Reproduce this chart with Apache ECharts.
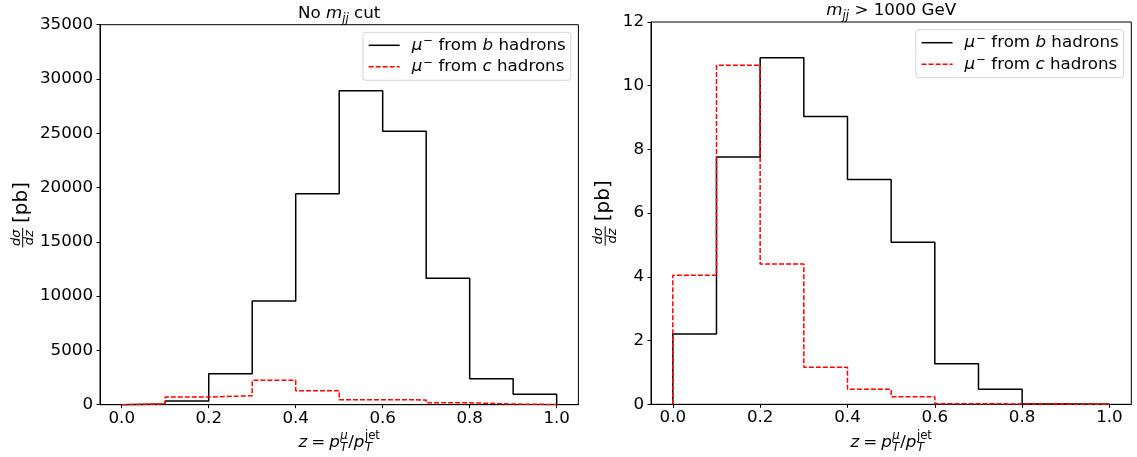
<!DOCTYPE html>
<html><head><meta charset="utf-8">
<script src="https://cdn.jsdelivr.net/npm/echarts@6/dist/echarts.min.js"></script>
<style>html,body{margin:0;padding:0;background:#fff}#c{width:1137px;height:457px}</style>
</head><body><div id="c"></div>
<script>
// ---------- data ----------
const binEdges = [0.0, 0.1, 0.2, 0.3, 0.4, 0.5, 0.6, 0.7, 0.8, 0.9, 1.0];
const xTicks = [0.0, 0.2, 0.4, 0.6, 0.8, 1.0];
const leftB = [60, 330, 2855, 9550, 19435, 28920, 25180, 11640, 2395, 960];
const leftC = [60, 700, 830, 2245, 1290, 460, 440, 180, 60, 20];
const rightB = [2.21, 7.76, 10.88, 9.03, 7.06, 5.09, 1.27, 0.47, 0.01, 0.005];
const rightC = [4.05, 10.64, 4.40, 1.16, 0.47, 0.24, 0.02, 0.01, 0.005, 0.0];
const leftYMax = 35000, leftYStep = 5000;
const rightYMax = 12, rightYStep = 2;

// ---------- helpers ----------
const FONT = 'DejaVu Sans';
const S = 16.7, SS = 11.7;
const mctx = document.createElement('canvas').getContext('2d');
function tw(t, size, it) { mctx.font = (it ? 'italic ' : '') + size + 'px "' + FONT + '"'; return mctx.measureText(t).width; }
function compose(items) {
  let x = 0, prevX = 0; const out = [];
  items.forEach(p => {
    const w = tw(p.t, p.s, p.it); let px;
    if (p.stack) { px = prevX; x = Math.max(x, prevX + w); }
    else { px = x + (p.gap || 0); prevX = px; x = px + w; }
    out.push(Object.assign({}, p, { x: px, w: w }));
  });
  return { items: out, width: x };
}
function textEl(x, baseY, p) {
  return { type: 'text', x: x, y: baseY - 0.3 * p.s, silent: true,
    style: { text: p.t, fontSize: p.s, fontFamily: FONT, fontStyle: p.it ? 'italic' : 'normal', fill: '#000', align: 'left', verticalAlign: 'middle' } };
}
function mathGroup(items, cx, baseY) {
  const c = compose(items); const x0 = -c.width / 2;
  return { type: 'group', x: cx, y: baseY, children: c.items.map(p => textEl(x0 + p.x, p.dy || 0, p)) };
}
function xLabel(cx, baseY) {
  return mathGroup([
    { t: 'z', s: S, it: 1 }, { t: '=', s: S, gap: 4 }, { t: 'p', s: S, it: 1, gap: 4 },
    { t: 'μ', s: SS, it: 1, dy: -0.5 * S, gap: 0.5 }, { t: 'T', s: SS, it: 1, dy: 0.21 * S, stack: 1 },
    { t: '/', s: S, gap: 0.5 }, { t: 'p', s: S, it: 1 },
    { t: 'jet', s: SS, dy: -0.5 * S, gap: 0.5 }, { t: 'T', s: SS, it: 1, dy: 0.21 * S, stack: 1 }
  ], cx, baseY);
}
function yLabel(baseX, cy) {
  const fs = 13, bs = 20;
  const wn = tw('dσ', fs, 1), wd = tw('dz', fs, 1);
  const fw = Math.max(wn, wd) + 3;
  const wpb = tw('[pb]', bs, 0);
  const gap = 5;
  const total = fw + gap + wpb;
  const x0 = -total / 2;
  const barY = -4.7;
  const ch = [
    textEl(x0 + (fw - wn) / 2, barY - 2.2, { t: 'dσ', s: fs, it: 1 }),
    textEl(x0 + (fw - wd) / 2, barY + 11.2, { t: 'dz', s: fs, it: 1 }),
    { type: 'line', silent: true, shape: { x1: x0, y1: barY, x2: x0 + fw, y2: barY }, style: { stroke: '#000', lineWidth: 1 } },
    textEl(x0 + fw + gap, 0, { t: '[pb]', s: bs, it: 0 })
  ];
  return { type: 'group', x: baseX, y: cy, rotation: Math.PI / 2, children: ch };
}
function stepPoints(vals) {
  const pts = [[binEdges[0], 0]];
  vals.forEach((v, i) => { pts.push([binEdges[i], v]); pts.push([binEdges[i + 1], v]); });
  pts.push([binEdges[binEdges.length - 1], 0]);
  return pts;
}
const names = { b1: 'b', c1: 'c', b2: 'b', c2: 'c' };
function legendFmt(name) { return '{g| }{i|μ}{sp|−}{r| from }{i|' + names[name] + '}{r| hadrons}'; }
const legendRich = {
  g: { width: 7 },
  i: { fontFamily: FONT, fontSize: S, fontStyle: 'italic', color: '#000', lineHeight: 20 },
  r: { fontFamily: FONT, fontSize: S, color: '#000', lineHeight: 20 },
  sp: { fontFamily: FONT, fontSize: SS, color: '#000', verticalAlign: 'top', padding: [0, 0, 0, 1] }
};
function mkLegend(right, top, data) {
  return { orient: 'vertical', right: right, top: top, data: data, itemWidth: 31, itemHeight: 14, itemGap: 3,
    padding: [3, 5, 5, 5], backgroundColor: '#fff', borderColor: '#d4d4d4', borderWidth: 1, borderRadius: 3,
    itemStyle: { opacity: 0 }, lineStyle: { width: 1.5 },
    selectedMode: false, formatter: legendFmt, textStyle: { fontFamily: FONT, fontSize: S, color: '#000', rich: legendRich } };
}
function xAxisCfg(gi) {
  return { type: 'value', gridIndex: gi, min: -0.05, max: 1.05,
    axisLine: { show: true, onZero: false, lineStyle: { color: '#000', width: 1 } },
    axisTick: { show: true, inside: false, length: 3.5, customValues: xTicks, lineStyle: { color: '#000', width: 1 } },
    axisLabel: { customValues: xTicks, formatter: v => v.toFixed(1), fontFamily: FONT, fontSize: S, color: '#000', margin: 5 },
    splitLine: { show: false } };
}
function yAxisCfg(gi, max, step) {
  return { type: 'value', gridIndex: gi, min: 0, max: max, interval: step,
    axisLine: { show: true, onZero: false, lineStyle: { color: '#000', width: 1 } },
    axisTick: { show: true, inside: false, length: 3.5, lineStyle: { color: '#000', width: 1 } },
    axisLabel: { formatter: v => String(v), fontFamily: FONT, fontSize: S, color: '#000', margin: 7 },
    splitLine: { show: false } };
}
function lineSeries(name, gi, vals, color, dashed) {
  return { name: name, type: 'line', xAxisIndex: gi, yAxisIndex: gi, data: stepPoints(vals), symbol: 'none',
    lineStyle: { color: color, width: 1.5, type: dashed ? [5, 2] : 'solid' }, itemStyle: { color: color }, animation: false, z: dashed ? 3 : 2 };
}

const chart = echarts.init(document.getElementById('c'), null, { renderer: 'canvas' });
chart.setOption({
  animation: false,
  backgroundColor: '#fff',
  grid: [
    { left: 100, top: 24.7, width: 478.4, height: 380, show: true, borderColor: '#000', borderWidth: 1, backgroundColor: 'transparent' },
    { left: 651, top: 22, width: 480.3, height: 382.3, show: true, borderColor: '#000', borderWidth: 1, backgroundColor: 'transparent' }
  ],
  xAxis: [xAxisCfg(0), xAxisCfg(1)],
  yAxis: [yAxisCfg(0, leftYMax, leftYStep), yAxisCfg(1, rightYMax, rightYStep)],
  legend: [mkLegend(566.2, 32.3, ['b1', 'c1']), mkLegend(13.3, 29.7, ['b2', 'c2'])],
  series: [
    lineSeries('b1', 0, leftB, '#000000', false),
    lineSeries('c1', 0, leftC, '#ff0000', true),
    lineSeries('b2', 1, rightB, '#000000', false),
    lineSeries('c2', 1, rightC, '#ff0000', true)
  ],
  graphic: [
    mathGroup([{ t: 'No ', s: S }, { t: 'm', s: S, it: 1 }, { t: 'jj', s: SS, it: 1, dy: 0.22 * S }, { t: ' cut', s: S }], 339.2, 19),
    mathGroup([{ t: 'm', s: S, it: 1 }, { t: 'jj', s: SS, it: 1, dy: 0.22 * S }, { t: ' > 1000 GeV', s: S }], 891.2, 15.8),
    xLabel(339.2, 448),
    xLabel(891.2, 447.5),
    yLabel(27.4, 214.7),
    yLabel(609.9, 213)
  ]
});
</script></body></html>
